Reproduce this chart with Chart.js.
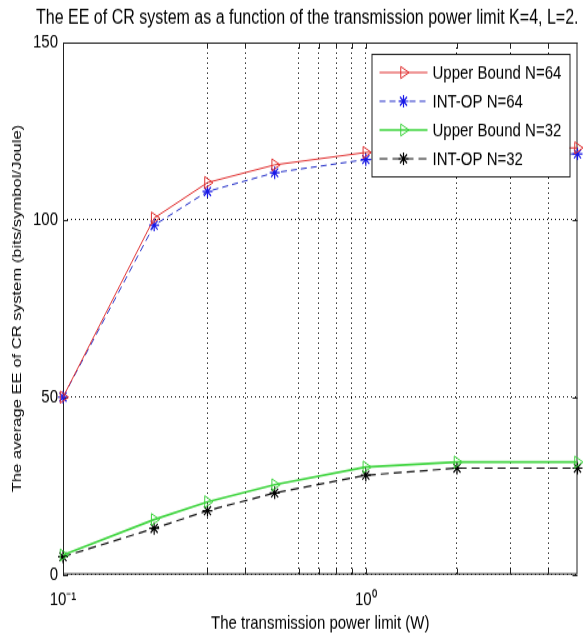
<!DOCTYPE html>
<html>
<head>
<meta charset="utf-8">
<title>EE of CR system</title>
<script src="https://cdn.jsdelivr.net/npm/chart.js@4.4.1/dist/chart.umd.min.js"></script>
<style>
  html, body { margin: 0; padding: 0; background: #fff; height: 640px; }
  /* the figure is stretched vertically, like the exported plot */
  #wrap { width: 584px; height: 512px; transform: scaleY(1.25); transform-origin: 0 0; }
</style>
</head>
<body>
<div id="wrap"><canvas id="chart"></canvas></div>
<script>
// transmission power limit (W)
const powerLimit = [0.1, 0.2, 0.3, 0.5, 1, 2, 5];

// average EE (bits/symbol/Joule)
const upperBound64 = [50, 100.5, 110.5, 115.5, 119, 120, 120.3];
const intOp64      = [50, 98.5, 108, 113.3, 117, 118.3, 118.6];
const upperBound32 = [5.5, 15.5, 20.5, 25.3, 30.3, 31.7, 31.7];
const intOp32      = [5, 13, 18, 23, 28, 30, 30];

// axis ticks
const xGridValues = [0.3, 0.4, 0.6, 0.7, 0.8, 0.9, 1, 2, 3, 4];
const xLabelValues = [0.1, 1];
const xLabelText = ['10⁻¹', '10⁰'];
const yTickValues = [0, 50, 100, 150];

const pts = ys => powerLimit.map((x, i) => ({ x: x, y: ys[i] }));

Chart.defaults.font.family = "'Liberation Sans', Arial, sans-serif";
Chart.defaults.color = '#000';

// box round the plot with matlab style inward ticks
const frame = {
    id: 'frame',
    beforeDatasetsDraw(chart) {
        const { ctx, chartArea: a, scales } = chart;
        ctx.save();
        ctx.setLineDash([]);
        ctx.strokeStyle = '#222';
        ctx.lineWidth = 1;
        ctx.strokeRect(a.left + 0.5, a.top + 0.5, a.right - a.left - 1, a.bottom - a.top - 1);
        ctx.beginPath();
        xGridValues.forEach(v => {
            const x = Math.round(scales.x.getPixelForValue(v)) + 0.5;
            ctx.moveTo(x, a.bottom); ctx.lineTo(x, a.bottom - 5);
            ctx.moveTo(x, a.top); ctx.lineTo(x, a.top + 5);
        });
        yTickValues.forEach(v => {
            const y = Math.round(scales.y.getPixelForValue(v)) + 0.5;
            ctx.moveTo(a.left, y); ctx.lineTo(a.left + 5, y);
            ctx.moveTo(a.right, y); ctx.lineTo(a.right - 5, y);
        });
        ctx.stroke();
        ctx.restore();
    }
};

// legend inside the upper right corner
const boxLegend = {
    id: 'boxLegend',
    afterDatasetsDraw(chart) {
        const { ctx, chartArea: a } = chart;
        const w = 198, h = 98;
        const left = a.right - w - 8, top = a.top + 9;
        ctx.save();
        ctx.fillStyle = '#fff';
        ctx.fillRect(left, top, w, h);
        ctx.strokeStyle = '#222';
        ctx.lineWidth = 1;
        ctx.setLineDash([]);
        ctx.strokeRect(left + 0.5, top + 0.5, w, h);
        chart.data.datasets.forEach((ds, i) => {
            const y = top + 15 + i * 23;
            const x0 = left + 8, x1 = left + 56;
            ctx.strokeStyle = ds.borderColor;
            ctx.lineWidth = ds.borderWidth;
            ctx.setLineDash(ds.borderDash || []);
            ctx.beginPath();
            ctx.moveTo(x0, y); ctx.lineTo(x1, y);
            ctx.stroke();
            ctx.setLineDash([]);
            ctx.fillStyle = 'rgba(0,0,0,0)';
            ctx.strokeStyle = ds.pointBorderColor;
            ctx.lineWidth = ds.pointBorderWidth;
            Chart.helpers.drawPoint(ctx, {
                pointStyle: ds.pointStyle,
                rotation: ds.pointRotation || 0,
                radius: ds.pointRadius,
                borderWidth: ds.pointBorderWidth
            }, (x0 + x1) / 2, y);
            ctx.fillStyle = '#000';
            ctx.font = "15px 'Liberation Sans', Arial, sans-serif";
            ctx.textBaseline = 'middle';
            ctx.fillText(ds.label, left + 61, y + 1);
        });
        ctx.restore();
    }
};

const ctx = document.getElementById('chart').getContext('2d');
const myChart = new Chart(ctx, {
    type: 'line',
    data: {
        datasets: [
            {
                label: 'Upper Bound N=64',
                data: pts(upperBound64),
                borderColor: '#e03030',
                borderWidth: 1,
                pointStyle: 'triangle',
                pointRotation: 90,
                pointRadius: 5.5,
                pointBorderWidth: 1,
                pointBorderColor: '#e03030',
                pointBackgroundColor: 'rgba(0,0,0,0)'
            },
            {
                label: 'INT-OP N=64',
                data: pts(intOp64),
                borderColor: '#2430c8',
                borderWidth: 1,
                borderDash: [6, 4],
                pointStyle: 'star',
                pointRadius: 5,
                pointBorderWidth: 1.2,
                pointBorderColor: '#1818e8',
                pointBackgroundColor: 'rgba(0,0,0,0)'
            },
            {
                label: 'Upper Bound N=32',
                data: pts(upperBound32),
                borderColor: '#3ed43e',
                borderWidth: 1.6,
                pointStyle: 'triangle',
                pointRotation: 90,
                pointRadius: 5.5,
                pointBorderWidth: 1,
                pointBorderColor: '#3ed43e',
                pointBackgroundColor: 'rgba(0,0,0,0)'
            },
            {
                label: 'INT-OP N=32',
                data: pts(intOp32),
                borderColor: '#111',
                borderWidth: 1.2,
                borderDash: [8, 5],
                pointStyle: 'star',
                pointRadius: 5,
                pointBorderWidth: 1.2,
                pointBorderColor: '#000',
                pointBackgroundColor: 'rgba(0,0,0,0)'
            }
        ]
    },
    options: {
        responsive: true,
        maintainAspectRatio: false,
        animation: false,
        layout: { padding: { left: 0, right: 5.5, top: 0, bottom: 0 } },
        elements: { line: { tension: 0 } },
        datasets: { line: { clip: false } },
        plugins: {
            legend: { display: false },
            tooltip: { enabled: false },
            title: {
                display: true,
                align: 'end',
                text: 'The EE of CR system as a function of the transmission power limit K=4, L=2.',
                color: '#000',
                font: { size: 16, weight: 'normal' },
                padding: { top: 4.5, bottom: 10.3 }
            }
        },
        scales: {
            x: {
                type: 'logarithmic',
                min: 0.1,
                max: 5,
                afterBuildTicks: s => {
                    const vals = Array.from(new Set([...xLabelValues, ...xGridValues])).sort((a, b) => a - b);
                    s.ticks = vals.map(v => ({ value: v }));
                },
                afterFit: s => { s.height = 52.4; },
                grid: {
                    color: c => (c.tick && xGridValues.includes(c.tick.value)) ? '#000' : 'rgba(0,0,0,0)',
                    drawTicks: false,
                    lineWidth: 1
                },
                border: { display: false, dash: [1, 3] },
                ticks: {
                    autoSkip: false,
                    maxRotation: 0,
                    padding: 11,
                    color: '#000',
                    font: { size: 15 },
                    callback: v => {
                        const i = xLabelValues.indexOf(v);
                        return i < 0 ? '' : xLabelText[i];
                    }
                },
                title: {
                    display: true,
                    text: 'The transmission power limit (W)',
                    color: '#000',
                    font: { size: 15 },
                    padding: { top: 0, bottom: 4 }
                }
            },
            y: {
                min: 0,
                max: 150,
                afterBuildTicks: s => { s.ticks = yTickValues.map(v => ({ value: v })); },
                afterFit: s => { s.width = 63; },
                grid: { color: '#000', drawTicks: false, lineWidth: 1 },
                border: { display: false, dash: [1, 3] },
                ticks: { padding: 5, color: '#000', font: { size: 15 } },
                title: {
                    display: true,
                    text: 'The average EE of CR system (bits/symbol/Joule)',
                    color: '#000',
                    font: { size: 13.3 },
                    padding: { top: 9.5, bottom: 0 }
                }
            }
        }
    },
    plugins: [frame, boxLegend]
});
</script>
</body>
</html>
